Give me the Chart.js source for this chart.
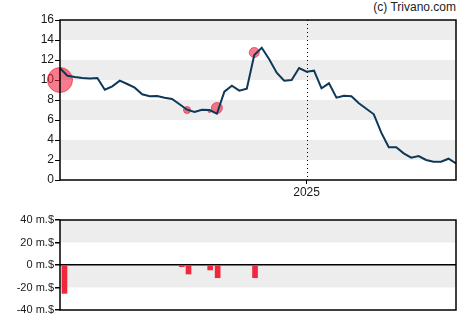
<!DOCTYPE html>
<html>
<head>
<meta charset="utf-8">
<script src="https://cdn.jsdelivr.net/npm/chart.js@4.4.0/dist/chart.umd.min.js"></script>
<style>
body { margin: 0; background: #fff; width: 470px; height: 325px; overflow: hidden; position: relative; font-family: Arial, "Liberation Sans", sans-serif; }
#priceBox { position: absolute; left: 0; top: 0; width: 470px; height: 200px; }
#tradeBox { position: absolute; left: 0; top: 200px; width: 470px; height: 125px; }
#copy { position: absolute; right: 14px; top: 0; font-size: 12px; color: #222; }
</style>
</head>
<body>
<div id="copy">(c) Trivano.com</div>
<div id="priceBox"><canvas id="priceChart"></canvas></div>
<div id="tradeBox"><canvas id="tradeChart"></canvas></div>
<script>
// weekly closes
const weeks = [
    "2024-05-17", "2024-05-24", "2024-05-31", "2024-06-07", "2024-06-14", "2024-06-21", "2024-06-28",
    "2024-07-05", "2024-07-12", "2024-07-19", "2024-07-26", "2024-08-02", "2024-08-09", "2024-08-16",
    "2024-08-23", "2024-08-30", "2024-09-06", "2024-09-13", "2024-09-20", "2024-09-27", "2024-10-04",
    "2024-10-11", "2024-10-18", "2024-10-25", "2024-11-01", "2024-11-08", "2024-11-15", "2024-11-22",
    "2024-11-29", "2024-12-06", "2024-12-13", "2024-12-20", "2024-12-27", "2025-01-03", "2025-01-10",
    "2025-01-17", "2025-01-24", "2025-01-31", "2025-02-07", "2025-02-14", "2025-02-21", "2025-02-28",
    "2025-03-07", "2025-03-14", "2025-03-21", "2025-03-28", "2025-04-04", "2025-04-11", "2025-04-18",
    "2025-04-25", "2025-05-02", "2025-05-09", "2025-05-16", "2025-05-23"
];
const closePrice = [
    11.17, 10.43, 10.3, 10.2, 10.15, 10.2, 9.03, 9.37, 9.93, 9.6,
    9.23, 8.57, 8.37, 8.4, 8.23, 8.1, 7.57, 7.03, 6.8, 7.03,
    7.0, 6.63, 8.83, 9.43, 8.93, 9.13, 12.5, 13.23, 12.07, 10.73,
    9.93, 10.0, 11.2, 10.83, 10.93, 9.17, 9.67, 8.23, 8.43, 8.37,
    7.67, 7.13, 6.57, 4.73, 3.27, 3.27, 2.67, 2.23, 2.4, 2.0,
    1.83, 1.83, 2.13, 1.67
];

// insider trade markers on the price chart
const markerWeek = [0, 17, 20, 21, 26];
const markerPrice = [10.0, 7.0, 6.9, 7.2, 12.75];
const markerRadius = [12.5, 3.5, 1.5, 5.5, 5];

// trade volume (m.$), x in weeks from start
const tradeWeek = [0.6, 16.3, 17.2, 20.1, 21.1, 26.1];
const tradeAmount = [-25.2, -1.5, -8, -4.4, -11.3, -11.3];

const tickColor = "#1a1a1a";

// grey bands between every other tick pair, plus the black frame
const bandsPlugin = {
    id: "bands",
    beforeDraw(chart) {
        const { ctx, chartArea: a, scales: { y } } = chart;
        ctx.save();
        ctx.fillStyle = "#ededed";
        y.ticks.forEach((t, i) => {
            if (i % 2 === 1 && i + 1 < y.ticks.length) {
                const top = y.getPixelForValue(y.ticks[i + 1].value);
                const bottom = y.getPixelForValue(t.value);
                ctx.fillRect(a.left, top, a.right - a.left, bottom - top);
            }
        });
        ctx.restore();
    },
    afterDraw(chart) {
        const { ctx, chartArea: a } = chart;
        ctx.save();
        ctx.strokeStyle = "#000";
        ctx.lineWidth = 1.5;
        ctx.strokeRect(a.left, a.top, a.right - a.left, a.bottom - a.top);
        ctx.restore();
    }
};

// dotted line at year change
const yearLinePlugin = {
    id: "yearLine",
    beforeDatasetsDraw(chart) {
        const { ctx, chartArea: a, scales: { x } } = chart;
        x.ticks.forEach(t => {
            const px = Math.round(x.getPixelForValue(t.value)) + 0.5;
            ctx.save();
            ctx.strokeStyle = "#000";
            ctx.lineWidth = 1;
            ctx.setLineDash([1, 3]);
            ctx.beginPath();
            ctx.moveTo(px, a.top);
            ctx.lineTo(px, a.bottom);
            ctx.stroke();
            ctx.restore();
        });
    }
};

new Chart(document.getElementById("priceChart"), {
    type: "line",
    data: {
        labels: weeks,
        datasets: [
            {
                type: "line",
                data: closePrice,
                borderColor: "#0d3858",
                borderWidth: 2,
                pointRadius: 0,
                tension: 0,
                order: 0
            },
            {
                type: "bubble",
                data: markerWeek.map((w, i) => ({ x: weeks[w], y: markerPrice[i], r: markerRadius[i] })),
                backgroundColor: "rgba(236, 30, 56, 0.58)",
                borderColor: "rgba(236, 30, 56, 0.65)",
                borderWidth: 1,
                clip: false,
                order: 1
            }
        ]
    },
    options: {
        responsive: true,
        maintainAspectRatio: false,
        animation: false,
        layout: { padding: { top: 20, right: 14, left: 0, bottom: 0 } },
        plugins: { legend: { display: false }, tooltip: { enabled: false } },
        scales: {
            x: {
                type: "category",
                offset: false,
                grid: { drawOnChartArea: false, tickLength: 4, color: "#000", offset: false },
                border: { display: false },
                afterBuildTicks: s => {
                    s.ticks = s.ticks.filter(t => t.value > 0 && weeks[t.value].slice(0, 4) !== weeks[t.value - 1].slice(0, 4));
                },
                afterFit: s => { s.height = 20; },
                ticks: {
                    autoSkip: false,
                    maxRotation: 0,
                    padding: 1,
                    color: tickColor,
                    font: { size: 12, family: "Arial, 'Liberation Sans', sans-serif" },
                    callback: v => weeks[v].slice(0, 4)
                }
            },
            y: {
                min: 0,
                max: 16,
                z: 1,
                grid: { drawOnChartArea: false, tickLength: 5, color: "#000" },
                border: { display: false },
                afterFit: s => { s.width = 60; },
                ticks: {
                    stepSize: 2,
                    padding: 1,
                    color: tickColor,
                    font: { size: 12, family: "Arial, 'Liberation Sans', sans-serif" }
                }
            }
        }
    },
    plugins: [bandsPlugin, yearLinePlugin]
});

new Chart(document.getElementById("tradeChart"), {
    type: "bar",
    data: {
        datasets: [{
            data: tradeWeek.map((x, i) => ({ x: x, y: tradeAmount[i] })),
            backgroundColor: "#f0283c",
            barThickness: 5
        }]
    },
    options: {
        responsive: true,
        maintainAspectRatio: false,
        animation: false,
        layout: { padding: { top: 20, right: 14, left: 0, bottom: 15 } },
        plugins: { legend: { display: false }, tooltip: { enabled: false } },
        scales: {
            x: {
                type: "linear",
                min: 0,
                max: weeks.length - 1,
                offset: false,
                grid: { offset: false },
                display: false
            },
            y: {
                min: -40,
                max: 40,
                grid: {
                    color: c => (c.tick && c.tick.value === 0 ? "#000" : "rgba(0,0,0,0)"),
                    tickColor: "#000",
                    tickLength: 5,
                    lineWidth: 1.5
                },
                border: { display: false },
                afterFit: s => { s.width = 60; },
                ticks: {
                    stepSize: 20,
                    padding: 1,
                    color: tickColor,
                    font: { size: 11, family: "Arial, 'Liberation Sans', sans-serif" },
                    callback: v => v + " m.$"
                }
            }
        }
    },
    plugins: [bandsPlugin]
});
</script>
</body>
</html>
